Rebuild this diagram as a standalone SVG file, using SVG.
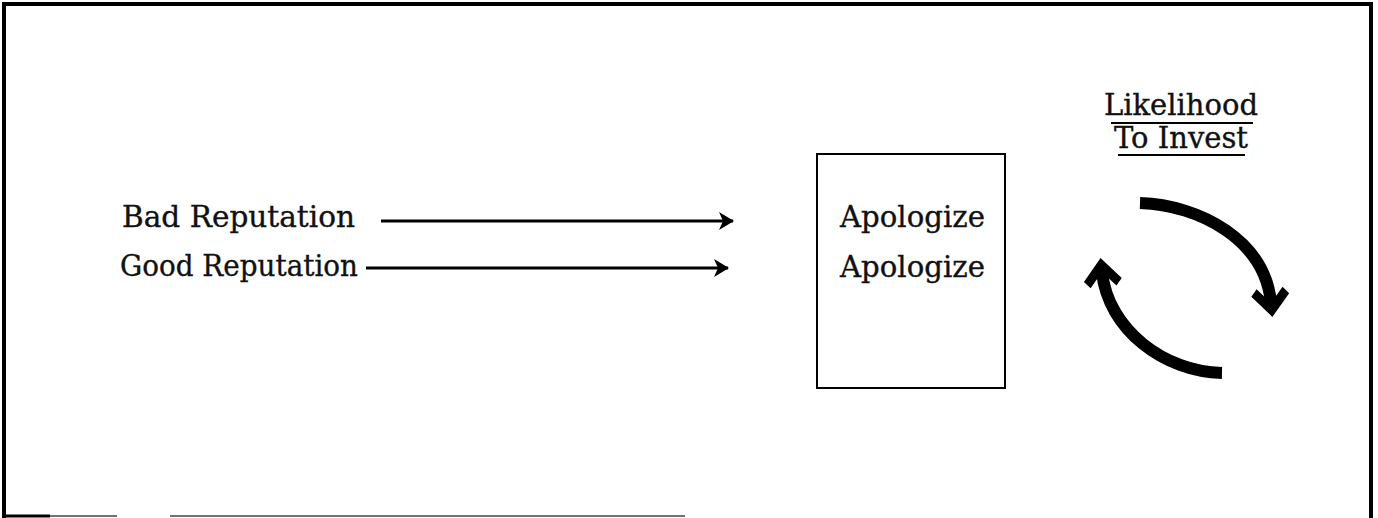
<svg xmlns="http://www.w3.org/2000/svg" width="1378" height="518" viewBox="0 0 1378 518">
  <style>
    .lbl { font-family: "DejaVu Serif", "Liberation Serif", serif; font-size: 29px; fill: #111; stroke: #111; stroke-width: 0.35; }
    .frame { stroke: #000; stroke-width: 4; fill: none; }
    .thin { stroke: #444; stroke-width: 1.5; fill: none; }
    .shaft { stroke: #000; stroke-width: 3; fill: none; }
    .loop { stroke: #000; stroke-width: 12; fill: none; }
    .box { stroke: #000; stroke-width: 2; fill: #fff; }
    .uline { stroke: #000; stroke-width: 2; }
  </style>
  <defs>
    <marker id="headSmall" markerUnits="userSpaceOnUse" markerWidth="40" markerHeight="40" refX="0" refY="0" orient="auto" overflow="visible">
      <path d="M -14 -9 L 1 0 L -14 9 L -10 0 Z" fill="#000"/>
    </marker>
    <marker id="headBig" markerUnits="userSpaceOnUse" markerWidth="60" markerHeight="60" refX="0" refY="0" orient="auto" overflow="visible">
      <path d="M 14 0 L -8 19 L -15 13 L 0 0 L -15 -13 L -8 -19 Z" fill="#000"/>
    </marker>
  </defs>

  <rect width="1378" height="518" fill="#fff"/>

  <!-- outer frame -->
  <g id="frame">
    <path class="frame" d="M 3 4 H 1372"/>
    <path class="frame" d="M 4 2 V 518"/>
    <path class="frame" d="M 1371 2 V 518"/>
    <path d="M 3 516 H 50" stroke="#000" stroke-width="3"/>
    <path class="thin" d="M 50 516 H 117 M 170 516 H 685"/>
  </g>

  <!-- left-hand labels -->
  <g id="bad-reputation">
    <text class="lbl" x="122" y="227" textLength="233" lengthAdjust="spacingAndGlyphs">Bad Reputation</text>
  </g>
  <g id="good-reputation">
    <text class="lbl" x="120" y="276" textLength="238" lengthAdjust="spacingAndGlyphs">Good Reputation</text>
  </g>

  <!-- apology box -->
  <g id="apologize">
    <rect class="box" x="817" y="154" width="188" height="234"/>
    <text class="lbl" x="840" y="227" textLength="145" lengthAdjust="spacingAndGlyphs">Apologize</text>
    <text class="lbl" x="840" y="277" textLength="145" lengthAdjust="spacingAndGlyphs">Apologize</text>
  </g>

  <!-- heading over the cycle -->
  <g id="likelihood">
    <text class="lbl" x="1181" y="115" text-anchor="middle">Likelihood</text>
    <line class="uline" x1="1111" y1="123" x2="1253" y2="123"/>
    <text class="lbl" x="1181" y="148" text-anchor="middle">To Invest</text>
    <line class="uline" x1="1118" y1="155" x2="1245" y2="155"/>
  </g>

  <!-- connectors -->
  <g id="connectors">
    <path class="shaft" d="M 381 221 H 733" marker-end="url(#headSmall)"/>
    <path class="shaft" d="M 366 268 H 728" marker-end="url(#headSmall)"/>
    <path class="loop" d="M 1140 203 C 1200 205, 1265 240, 1271 303" marker-end="url(#headBig)"/>
    <path class="loop" d="M 1222 373 C 1165 372, 1108 330, 1102 272" marker-end="url(#headBig)"/>
  </g>
</svg>
